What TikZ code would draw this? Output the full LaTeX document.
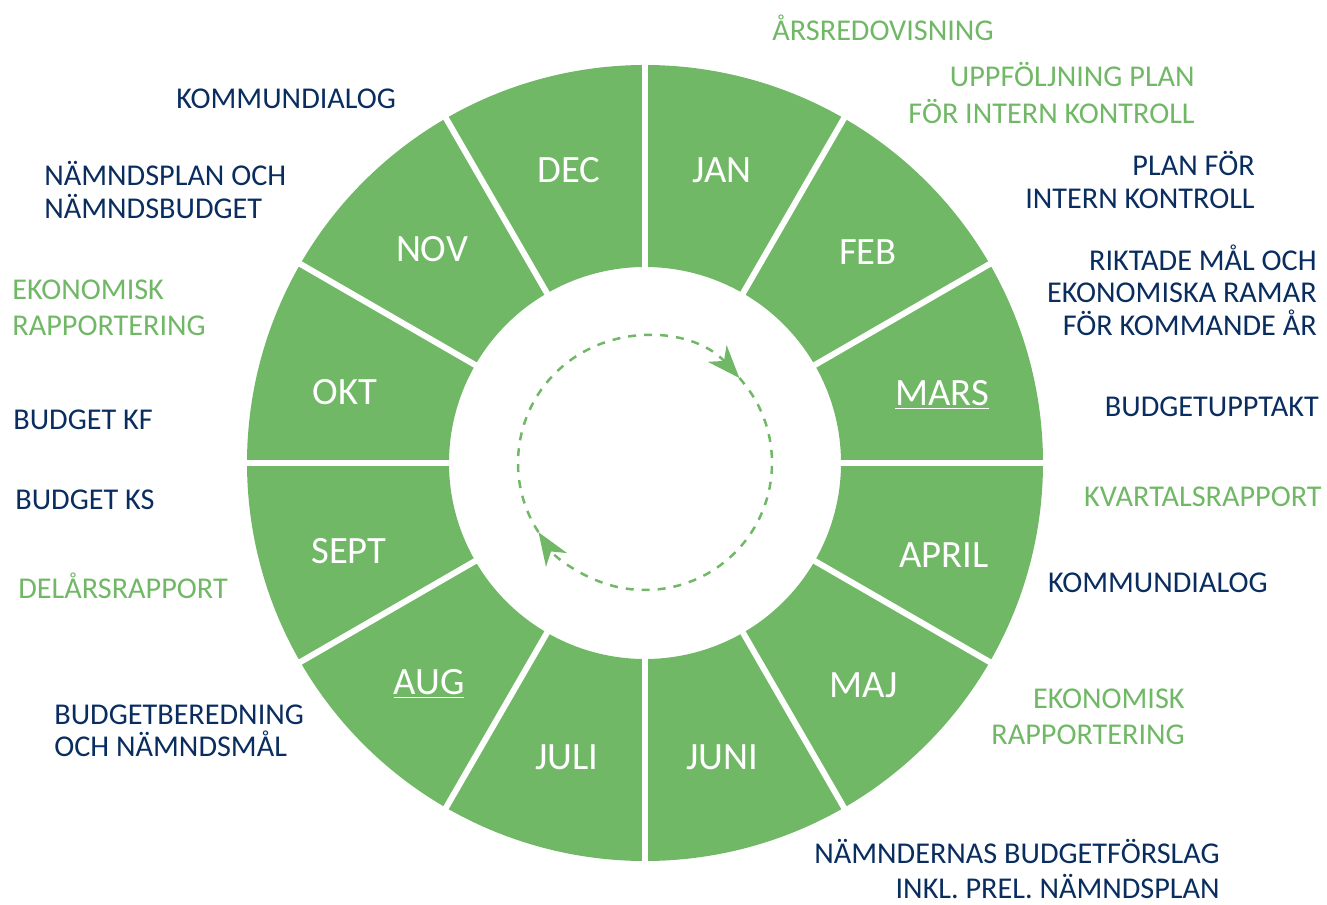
\documentclass[tikz,border=0pt]{standalone}
\usepackage{fontspec}
\setmainfont{Carlito}
\usetikzlibrary{arrows.meta}
\definecolor{gron}{RGB}{112, 184, 101}
\definecolor{marin}{RGB}{10, 45, 95}
\tikzset{
    seg/.style={fill=gron},
    spoke/.style={draw=white, line width=0.12cm},
    mon/.style={text=white, font=\fontsize{22}{26}\selectfont, inner sep=0pt},
    evgr/.style={text=gron, font=\fontsize{17.2}{20.5}\selectfont, inner sep=0pt},
    evbl/.style={text=marin, font=\fontsize{17.2}{18.5}\selectfont, inner sep=0pt},
    cyc/.style={draw=gron, line width=0.05cm, dash pattern=on 0.16cm off 0.16cm,
        -{Stealth[length=0.66cm, width=0.5cm, inset=0.2cm]}},
}

\begin{document}
\begin{tikzpicture}[x=0.02cm, y=0.02cm]
        \useasboundingbox (0,0) rectangle (1327,904);

        % ring of months
        \begin{scope}[shift={(645,441)}]
            \foreach \a in {90,60,...,-240}{
                \fill[seg] (\a:398) arc[start angle=\a, end angle=\a-30, radius=398]
                    -- (\a-30:196) arc[start angle=\a-30, end angle=\a, radius=196] -- cycle;
            }
            \foreach \a in {90,60,...,-240}{
                \draw[spoke] (\a:190) -- (\a:405);
            }
            % cycle arrows
            \draw[cyc] (213:127) arc[start angle=213, end angle=42, radius=127];
            \draw[cyc] (42:127) arc[start angle=42, end angle=-147, radius=127];
        \end{scope}
        \foreach \m/\x/\y [count=\i] in {JAN/722/734, FEB/868/652, \underline{MARS}/942/509,
                APRIL/944/349, MAJ/864/219, JUNI/722/147, JULI/567/147, \underline{AUG}/429/220,
                SEPT/349/353, OKT/345/512, NOV/432/655, DEC/569/734}{
            \node[mon] (m\i) at (\x,\y) {\m};
        }

        % right side
        \node[evgr] (arsred) at (883,876) {ÅRSREDOVISNING};
        \node[evgr, anchor=east, align=right] (uppf) at (1195,811) {UPPFÖLJNING PLAN\\FÖR INTERN KONTROLL};
        \node[evbl, anchor=east, align=right] (planik) at (1255,724) {PLAN FÖR\\INTERN KONTROLL};
        \node[evbl, anchor=east, align=right] (riktade) at (1317,614) {RIKTADE MÅL OCH\\EKONOMISKA RAMAR\\FÖR KOMMANDE ÅR};
        \node[evbl, anchor=east] (budupp) at (1319,497) {BUDGETUPPTAKT};
        \node[evgr, anchor=east] (kvartal) at (1322,407) {KVARTALSRAPPORT};
        \node[evbl, anchor=east] (kommR) at (1268,321) {KOMMUNDIALOG};
        \node[evgr, anchor=east, align=right] (ekoR) at (1185,187) {EKONOMISK\\RAPPORTERING};
        \node[evbl, anchor=east, align=right] (namnd) at (1220,35) {NÄMNDERNAS BUDGETFÖRSLAG\\[1pt]INKL. PREL. NÄMNDSPLAN};

        % left side
        \node[evbl, anchor=west] (kommL) at (176,805) {KOMMUNDIALOG};
        \node[evbl, anchor=west, align=left] (nplan) at (44,714) {NÄMNDSPLAN OCH\\NÄMNDSBUDGET};
        \node[evgr, anchor=west, align=left] (ekoL) at (12,596) {EKONOMISK\\RAPPORTERING};
        \node[evbl, anchor=west] (budkf) at (13,484) {BUDGET KF};
        \node[evbl, anchor=west] (budks) at (15,404) {BUDGET KS};
        \node[evgr, anchor=west] (delars) at (18,318) {DELÅRSRAPPORT};
        \node[evbl, anchor=west, align=left] (budber) at (54,173) {BUDGETBEREDNING\\OCH NÄMNDSMÅL};
\end{tikzpicture}
\end{document}
